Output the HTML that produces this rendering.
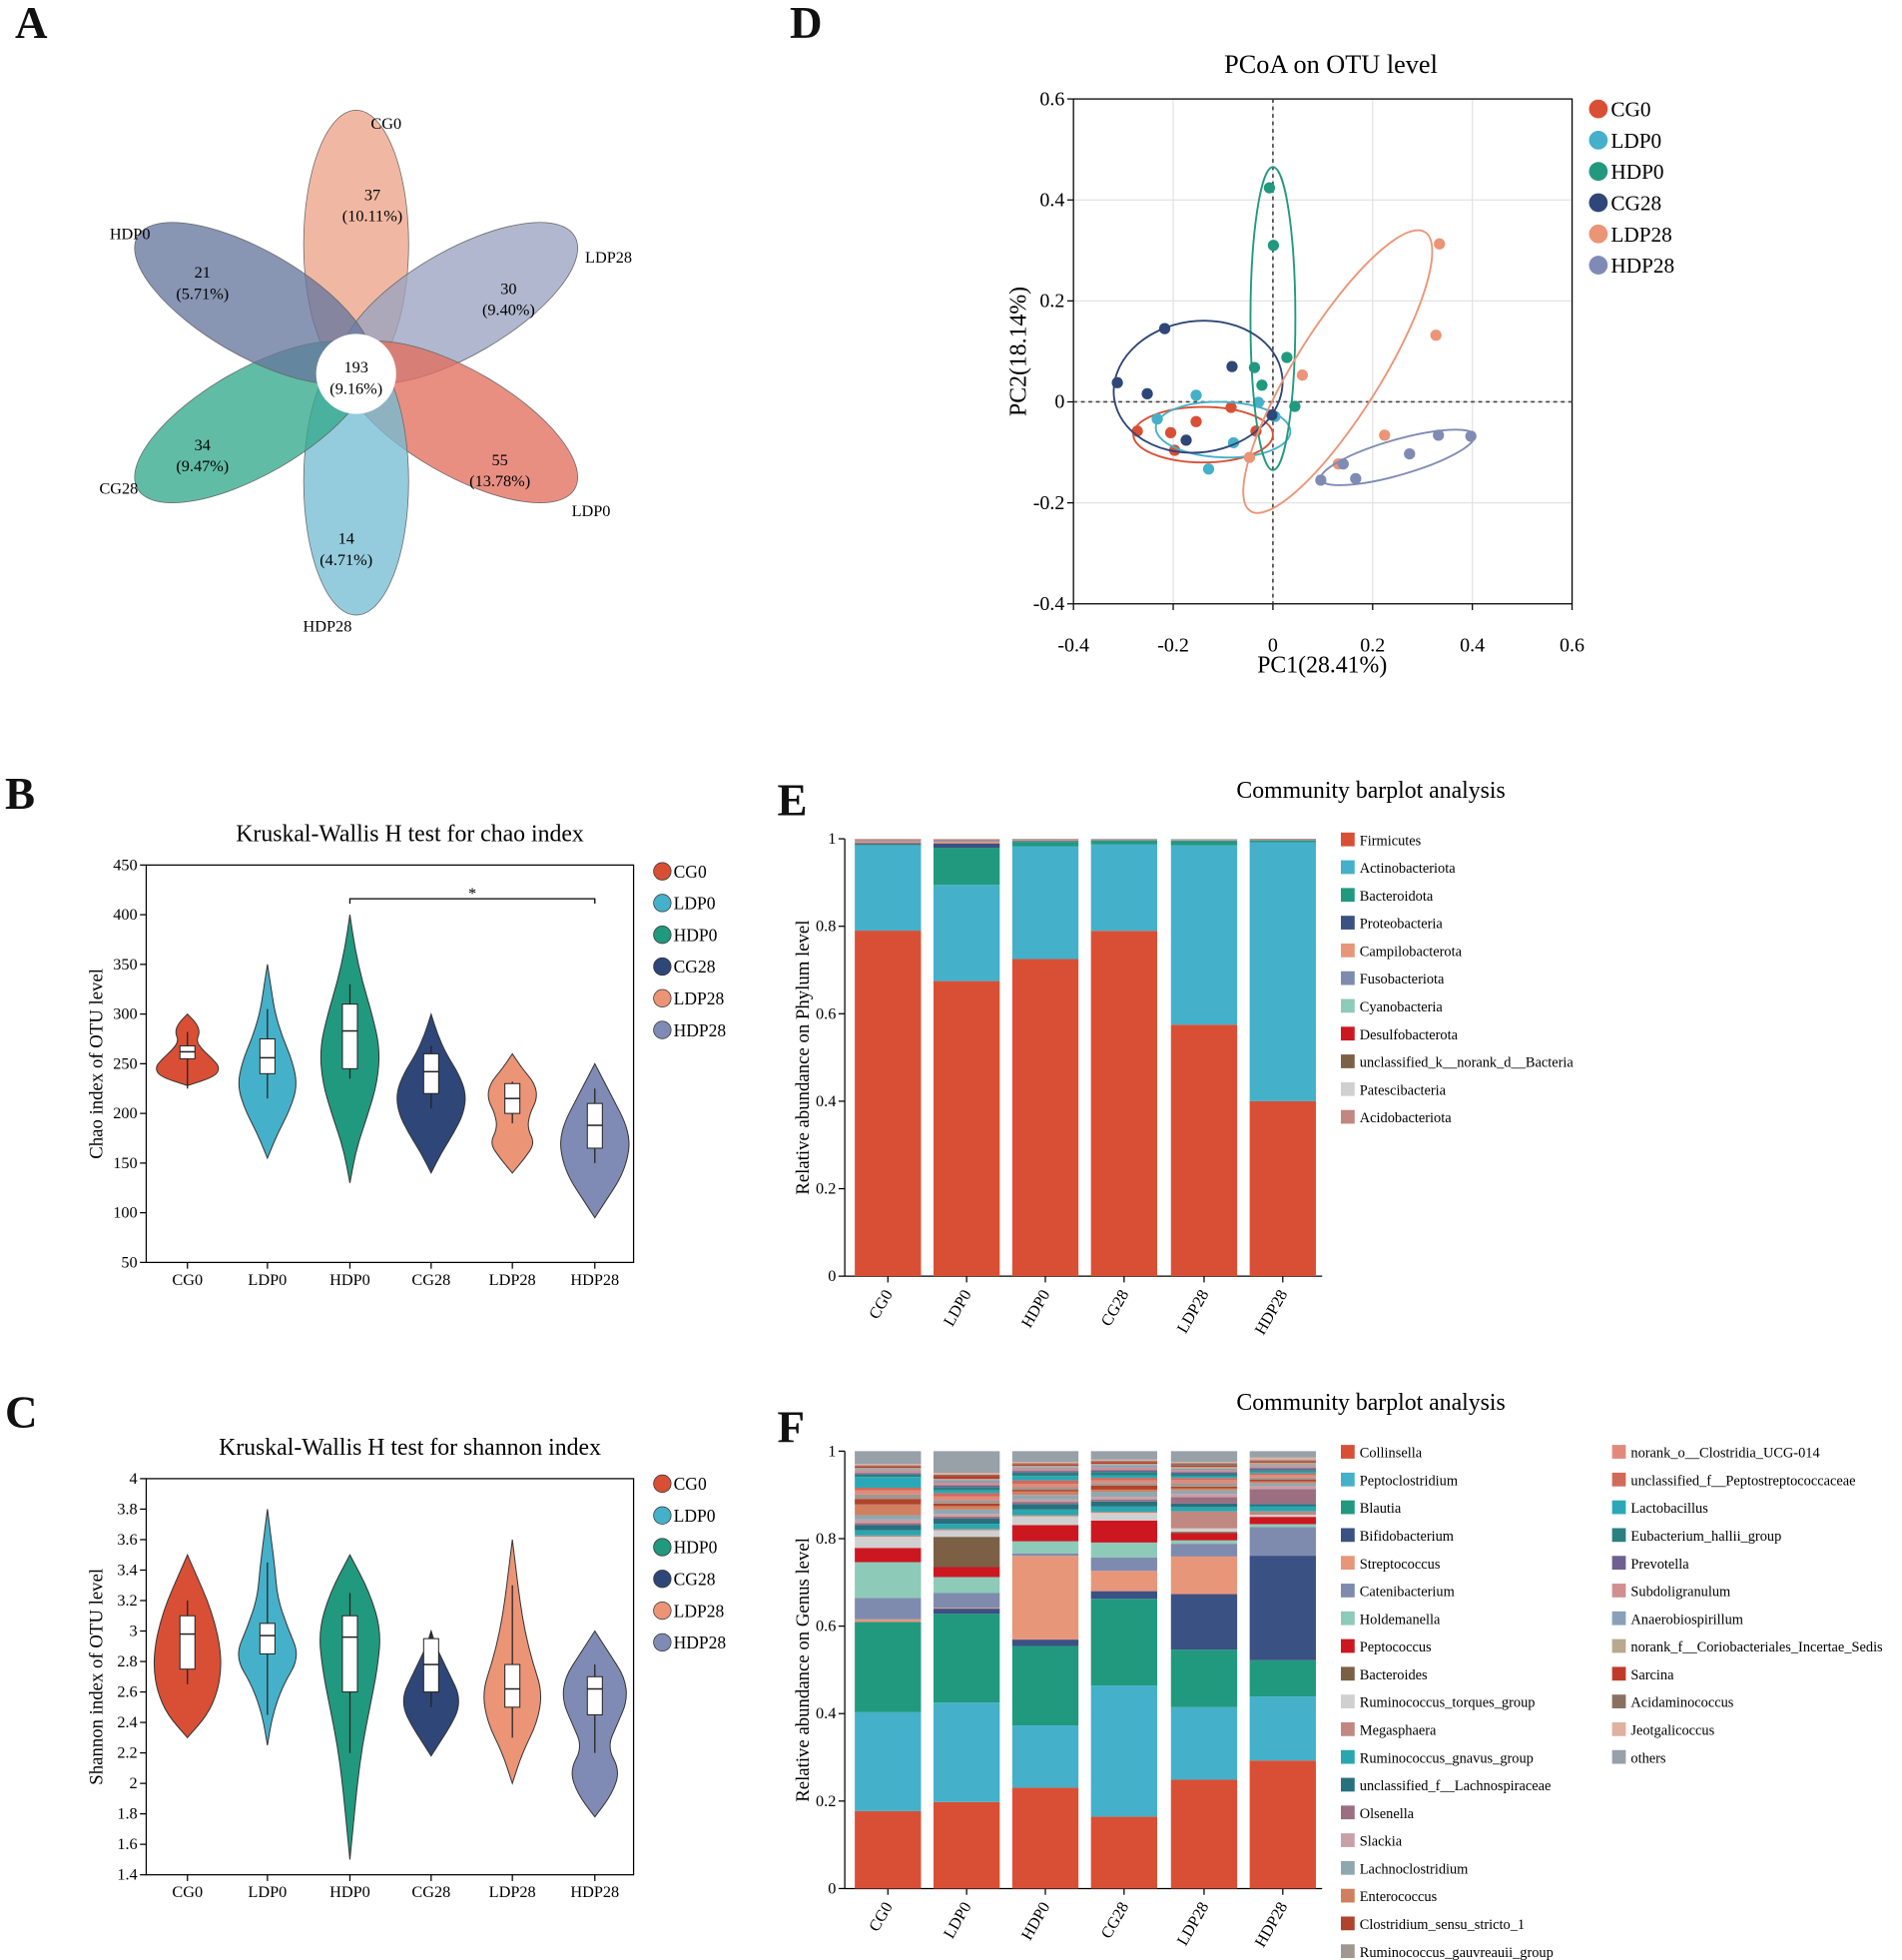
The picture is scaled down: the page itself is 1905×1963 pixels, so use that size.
<!DOCTYPE html>
<html><head><meta charset="utf-8"><style>
html,body{margin:0;padding:0;background:#fff}
svg{display:block;font-family:"Liberation Serif",serif}
</style></head><body>
<svg id="fig" width="1905" height="1963" viewBox="0 0 1522 1568" xmlns="http://www.w3.org/2000/svg">
<g font-weight="bold" font-size="36" fill="#111">
<text x="12" y="30">A</text>
<text x="632" y="30">D</text>
<text x="4" y="647">B</text>
<text x="622" y="652">E</text>
<text x="4" y="1142">C</text>
<text x="622" y="1154">F</text>
</g>
<g id="venn"></g>
<g id="pcoa"></g>
<g id="chao"></g>
<g id="shan"></g>
<g id="phy"></g>
<g id="gen"></g>
</svg>
<script>
const NS="http://www.w3.org/2000/svg";
function mk(p,t,a,txt){const e=document.createElementNS(NS,t);for(const k in a)e.setAttribute(k,a[k]);if(txt!==undefined)e.textContent=txt;p.appendChild(e);return e;}
const groups=["CG0","LDP0","HDP0","CG28","LDP28","HDP28"];
const gcol=["#d94f35","#45b0c9","#21997e","#2f4678","#ec9476","#7f8bb4"];

/* ---------- Venn ---------- */
const vennNames=["CG0","LDP28","LDP0","HDP28","CG28","HDP0"];
const vennCounts=["37","30","55","14","34","21"];
const vennPct=["(10.11%)","(9.40%)","(13.78%)","(4.71%)","(9.47%)","(5.71%)"];
const vennColors=["#eca489","#9aa3c0","#e2705f","#76bdd4","#34a98c","#67779e"];
const vennAngles=[-90,-30,30,90,150,210];
const vennCountX=[298,407,400,277,162,162],vennCountY=[160,235,372,435,360,222];
const vennLabelX=[309,487,473,262,95,104],vennLabelY=[103,210,413,505,395,191];
(function(){
 const g=document.getElementById('venn');const cx=285,cy=290;
 vennAngles.forEach((a,i)=>{const r=a*Math.PI/180;const px=cx+95*Math.cos(r),py=cy+95*Math.sin(r);
  const e=mk(g,'ellipse',{cx:px,cy:py,rx:107,ry:42,transform:`rotate(${a} ${px} ${py})`,fill:vennColors[i],'fill-opacity':0.78,stroke:'#666','stroke-width':0.6});
  
  });
 vennAngles.forEach((a,i)=>{
  const t1=mk(g,'text',{x:vennCountX[i],y:vennCountY[i],'text-anchor':'middle','font-size':13},vennCounts[i]);
  
  const t2=mk(g,'text',{x:vennCountX[i],y:vennCountY[i]+17,'text-anchor':'middle','font-size':13},vennPct[i]);
  
  const t3=mk(g,'text',{x:vennLabelX[i],y:vennLabelY[i],'text-anchor':'middle','font-size':13},vennNames[i]);
  });
 const c=mk(g,'circle',{cx:285,cy:299,r:32,fill:'#fff'});
 mk(g,'text',{x:285,y:298,'text-anchor':'middle','font-size':13},'193');
 mk(g,'text',{x:285,y:315,'text-anchor':'middle','font-size':13},'(9.16%)');
})();

/* ---------- PCoA ---------- */
const pcX=[[-0.272,-0.197,-0.154,-0.084,-0.034,-0.205],[-0.232,-0.154,-0.129,-0.079,-0.029,0.004],[-0.007,0.001,-0.037,-0.022,0.028,0.044],[-0.312,-0.252,-0.217,-0.174,-0.082,-0.002],[-0.047,0.059,0.131,0.224,0.327,0.334],[0.096,0.141,0.166,0.274,0.332,0.397]];
const pcY=[[-0.058,-0.096,-0.039,-0.011,-0.058,-0.061],[-0.034,0.013,-0.133,-0.081,-0.001,-0.029],[0.424,0.310,0.068,0.033,0.088,-0.009],[0.038,0.016,0.145,-0.076,0.070,-0.026],[-0.11,0.053,-0.123,-0.066,0.132,0.313],[-0.155,-0.123,-0.152,-0.103,-0.066,-0.068]];
const pcTicks=[-0.4,-0.2,0,0.2,0.4,0.6];
const ellCx=[-0.14,-0.1,0.0,-0.15,0.13,0.25],ellCy=[-0.065,-0.055,0.165,0.03,0.06,-0.11],ellRx=[0.14,0.135,0.045,0.17,0.33,0.16],ellRy=[0.055,0.055,0.3,0.13,0.085,0.035],ellRot=[0,2,0,-8,-58,-16];
(function(){
 const g=document.getElementById('pcoa');
 const X=v=>859+(v+0.4)/1.0*399, Y=v=>79+(0.6-v)/1.0*404;
 pcTicks.forEach(t=>{mk(g,'line',{x1:X(t),x2:X(t),y1:79,y2:483,stroke:'#e2e2e2'});mk(g,'line',{x1:859,x2:1258,y1:Y(t),y2:Y(t),stroke:'#e2e2e2'});
  const a=mk(g,'text',{x:X(t),y:521,'text-anchor':'middle','font-size':16},String(t));
  const b=mk(g,'text',{x:852,y:Y(t)+5,'text-anchor':'end','font-size':16},String(t));
  mk(g,'line',{x1:X(t),x2:X(t),y1:483,y2:488,stroke:'#000'});mk(g,'line',{x1:854,x2:859,y1:Y(t),y2:Y(t),stroke:'#000'});});
 mk(g,'rect',{x:859,y:79,width:399,height:404,fill:'none',stroke:'#000','stroke-width':1});
 mk(g,'line',{x1:X(0),x2:X(0),y1:79,y2:483,stroke:'#444','stroke-dasharray':'3,3','stroke-width':1.3});
 mk(g,'line',{x1:859,x2:1258,y1:Y(0),y2:Y(0),stroke:'#444','stroke-dasharray':'3,3','stroke-width':1.3});
 groups.forEach((gn,i)=>{
  const ex=X(ellCx[i]),ey=Y(ellCy[i]);
  const el=mk(g,'ellipse',{cx:ex,cy:ey,rx:ellRx[i]*399,ry:ellRy[i]*404,transform:`rotate(${ellRot[i]} ${ex} ${ey})`,fill:'none',stroke:gcol[i],'stroke-width':1.5});
  
  pcX[i].forEach((v,j)=>{const c=mk(g,'circle',{cx:X(v),cy:Y(pcY[i][j]),r:4.5,fill:gcol[i]});
   });
  const lc=mk(g,'circle',{cx:1279,cy:87+i*25,r:7.5,fill:gcol[i]});
  const lt=mk(g,'text',{x:1289,y:93+i*25,'font-size':17},gn);
 });
 const t=mk(g,'text',{x:1065,y:58,'text-anchor':'middle','font-size':21},'PCoA on OTU level');
 const xt=mk(g,'text',{x:1058,y:538,'text-anchor':'middle','font-size':19},'PC1(28.41%)');
 const yt=mk(g,'text',{x:0,y:0,'text-anchor':'middle','font-size':19,transform:'translate(821,281) rotate(-90)'},'PC2(18.14%)');
})();

/* ---------- Violins ---------- */
const chaoMin=[228,155,130,140,140,95],chaoMax=[300,350,400,300,260,250];
const chaoQ1=[255,240,245,220,200,165],chaoMed=[262,256,283,242,215,188],chaoQ3=[268,275,310,260,230,210];
const chaoWMin=[225,215,235,205,190,150],chaoWMax=[282,305,330,268,232,225];
const chaoShape=[[0,22,26,20,12,7,10,7,0],[0,8,18,24,20,12,6,3,0],[0,5,14,22,24,18,10,4,0],[0,8,18,26,28,22,12,5,0],[0,10,18,12,14,20,18,8,0],[0,10,20,26,28,24,16,8,0]];
const chaoTicks=[50,100,150,200,250,300,350,400,450];
const shMin=[2.3,2.25,1.5,2.18,2.0,1.78],shMax=[3.5,3.8,3.5,3.0,3.6,3.0];
const shQ1=[2.75,2.85,2.6,2.6,2.5,2.45],shMed=[2.98,2.97,2.96,2.78,2.62,2.62],shQ3=[3.1,3.05,3.1,2.95,2.78,2.7];
const shWMin=[2.65,2.45,2.2,2.5,2.3,2.2],shWMax=[3.2,3.45,3.25,3.0,3.3,2.78];
const shShape=[[0,16,24,27,26,22,16,8,0],[0,4,12,26,16,8,6,3,0],[0,3,6,10,16,22,25,16,0],[0,8,16,22,22,16,10,4,0],[0,8,20,24,16,10,6,3,0],[0,14,20,10,18,26,24,12,0]];
const shTicks=[1.4,1.6,1.8,2,2.2,2.4,2.6,2.8,3,3.2,3.4,3.6,3.8,4];
const xCenters=[150,214,280,345,410,476];
function violin(id,top,bot,lo,hi,ticks,mn,mx,q1,md,q3,wl,wh,shape,title,ytitle,legY,sig){
 const g=document.getElementById(id);const Y=v=>bot-(v-lo)/(hi-lo)*(bot-top);
 mk(g,'rect',{x:117,y:top,width:390,height:bot-top,fill:'none',stroke:'#000'});
 ticks.forEach(t=>{mk(g,'line',{x1:112,x2:117,y1:Y(t),y2:Y(t),stroke:'#000'});
  const l=mk(g,'text',{x:110,y:Y(t)+4,'text-anchor':'end','font-size':13},String(t));});
 groups.forEach((gn,i)=>{const cx=xCenters[i];const n=shape[i].length;let L=[],R=[];
  shape[i].forEach((w,k)=>{const y=Y(mn[i]+(mx[i]-mn[i])*k/(n-1));R.push([cx+w,y]);L.push([cx-w,y]);});
  const pts=R.concat(L.reverse());
  let d='M'+pts[0][0]+','+pts[0][1];
  for(let k=1;k<pts.length;k++){const p0=pts[k-1],p1=pts[k];const mx2=(p0[0]+p1[0])/2,my2=(p0[1]+p1[1])/2;d+=` Q${p0[0]},${p0[1]} ${mx2},${my2}`;}
  d+=' Z';
  const v=mk(g,'path',{d:d,fill:gcol[i],stroke:'#333','stroke-width':0.8});
  mk(g,'line',{x1:cx,x2:cx,y1:Y(wl[i]),y2:Y(wh[i]),stroke:'#222','stroke-width':1});
  const b=mk(g,'rect',{x:cx-6,y:Y(q3[i]),width:12,height:Y(q1[i])-Y(q3[i]),fill:'#fff',stroke:'#222','stroke-width':0.8});
  mk(g,'line',{x1:cx-6,x2:cx+6,y1:Y(md[i]),y2:Y(md[i]),stroke:'#222','stroke-width':1.2});
  mk(g,'line',{x1:cx,x2:cx,y1:bot,y2:bot+5,stroke:'#000'});
  const xl=mk(g,'text',{x:cx,y:bot+18,'text-anchor':'middle','font-size':13},gn);
  const lc=mk(g,'circle',{cx:530,cy:legY+i*25.4,r:7,fill:gcol[i],stroke:'#333','stroke-width':0.6});
  const lt=mk(g,'text',{x:539,y:legY+5+i*25.4,'font-size':14},gn);
 });
 const t=mk(g,'text',{x:328,y:top-19,'text-anchor':'middle','font-size':19},title);
 const yt=mk(g,'text',{x:0,y:0,'text-anchor':'middle','font-size':15,transform:`translate(82,${(top+bot)/2}) rotate(-90)`},ytitle);
 if(sig){mk(g,'path',{d:`M280,${top+31} V${top+27} H476 V${top+31}`,fill:'none',stroke:'#000'});
  const s=mk(g,'text',{x:378,y:top+27,'text-anchor':'middle','font-size':13},'*');}
}
violin('chao',692,1010,50,450,chaoTicks,chaoMin,chaoMax,chaoQ1,chaoMed,chaoQ3,chaoWMin,chaoWMax,chaoShape,'Kruskal-Wallis H test for chao index','Chao index of OTU level',697,true);
violin('shan',1183,1500,1.4,4,shTicks,shMin,shMax,shQ1,shMed,shQ3,shWMin,shWMax,shShape,'Kruskal-Wallis H test for shannon index','Shannon index of OTU level',1187,false);

/* ---------- Stacked bars ---------- */
const phyNames=["Firmicutes","Actinobacteriota","Bacteroidota","Proteobacteria","Campilobacterota","Fusobacteriota","Cyanobacteria","Desulfobacterota","unclassified_k__norank_d__Bacteria","Patescibacteria","Acidobacteriota"];
const phyColors=["#d94f35","#45b0c9","#21997e","#3a5183","#e8967a","#7f8bae","#8ecab8","#cc1720","#7b6046","#d0d0d0","#c08880"];
const phyVals=[[0.79,0.675,0.725,0.79,0.575,0.40],[0.195,0.22,0.258,0.198,0.41,0.592],[0.002,0.085,0.01,0.008,0.01,0.004],[0.003,0.01,0.002,0.001,0.001,0.001],[0.004,0.004,0.002,0.001,0.001,0.001],[0.002,0.002,0.001,0.001,0.001,0.001],[0.001,0.001,0.001,0.001,0.001,0.0005],[0.001,0.001,0.0005,0.0005,0.0005,0.0005],[0.0005,0.0005,0.0005,0.0,0.0,0.0],[0.0005,0.001,0.0,0.0,0.0005,0.0],[0.001,0.001,0.0,0.0,0.0,0.0]];
const genNames=["Collinsella","Peptoclostridium","Blautia","Bifidobacterium","Streptococcus","Catenibacterium","Holdemanella","Peptococcus","Bacteroides","Ruminococcus_torques_group","Megasphaera","Ruminococcus_gnavus_group","unclassified_f__Lachnospiraceae","Olsenella","Slackia","Lachnoclostridium","Enterococcus","Clostridium_sensu_stricto_1","Ruminococcus_gauvreauii_group","norank_o__Clostridia_UCG-014","unclassified_f__Peptostreptococcaceae","Lactobacillus","Eubacterium_hallii_group","Prevotella","Subdoligranulum","Anaerobiospirillum","norank_f__Coriobacteriales_Incertae_Sedis","Sarcina","Acidaminococcus","Jeotgalicoccus","others"];
const genColors=["#d94f35","#45b0c9","#21997e","#3a5183","#e8967a","#7f8bae","#8ecab8","#cc1720","#7b6046","#d0d0d0","#c08880","#2aa6ae","#27707e","#9b6e82","#c9a0a6","#8fa8b0","#d08060","#b0432b","#a09890","#e08a7c","#d06a5a","#2aa8b8","#2a8080","#6e6090","#d09090","#8aa0b8","#b8a890","#c03a2a","#8a7060","#e0b0a0","#98a0a8"];
const genVals=[[0.18,0.20,0.235,0.17,0.255,0.30],[0.23,0.23,0.145,0.31,0.17,0.15],[0.21,0.205,0.185,0.205,0.135,0.085],[0.0,0.012,0.015,0.018,0.13,0.245],[0.006,0.002,0.195,0.048,0.088,0.0],[0.05,0.034,0.006,0.032,0.03,0.067],[0.083,0.037,0.028,0.035,0.008,0.007],[0.033,0.023,0.038,0.052,0.017,0.017],[0,0.07,0.0,0.0,0.003,0],[0.026,0.015,0.02,0.018,0.008,0.005],[0.003,0.003,0.003,0.003,0.04,0.008],[0.012,0.012,0.013,0.012,0.01,0.012],[0.012,0.012,0.013,0.012,0.008,0.005],[0.005,0.005,0.005,0.005,0.015,0.035],[0.008,0.006,0.006,0.006,0.008,0.008],[0.01,0.01,0.01,0.012,0.008,0.006],[0.025,0.008,0.008,0.005,0.005,0.004],[0.013,0.006,0.004,0.01,0.004,0.004],[0.01,0.008,0.006,0.006,0.008,0.005],[0.01,0.008,0.008,0.006,0.008,0.006],[0.006,0.008,0.008,0.006,0.004,0.004],[0.025,0.006,0.01,0.006,0.004,0.004],[0.006,0.008,0.008,0.008,0.006,0.004],[0.003,0.004,0.004,0.004,0.004,0.004],[0.006,0.006,0.006,0.006,0.004,0.004],[0.003,0.006,0.003,0.006,0.004,0.003],[0.003,0.003,0.003,0.003,0.004,0.006],[0.003,0.006,0.003,0.004,0.003,0.003],[0.003,0.004,0.003,0.003,0.006,0.003],[0.003,0.004,0.003,0.003,0.003,0.006],[0.03,0.05,0.025,0.02,0.025,0.015]];
const barTicks=[0,0.2,0.4,0.6,0.8,1];
const barX=[684,747,810,873,937,1000];
function stacked(id,top,bot,names,colors,vals,ytitle,title,legendCols){
 const g=document.getElementById(id);const Y=v=>bot-v*(bot-top);
 mk(g,'line',{x1:676,x2:676,y1:top,y2:bot,stroke:'#000'});mk(g,'line',{x1:676,x2:1058,y1:bot,y2:bot,stroke:'#000'});
 barTicks.forEach(t=>{mk(g,'line',{x1:671,x2:676,y1:Y(t),y2:Y(t),stroke:'#000'});
  const l=mk(g,'text',{x:669,y:Y(t)+4,'text-anchor':'end','font-size':13},String(t));});
 groups.forEach((gn,j)=>{let tot=0;vals.forEach(v=>tot+=v[j]);let cum=0;
  vals.forEach((v,k)=>{const f=v[j]/tot;if(f<=0)return;const r=mk(g,'rect',{x:barX[j],y:Y(cum+f),width:53,height:f*(bot-top),fill:colors[k]});
   cum+=f;});
  const cx=barX[j]+26.5;mk(g,'line',{x1:cx,x2:cx,y1:bot,y2:bot+5,stroke:'#000'});
  const xl=mk(g,'text',{x:0,y:0,'text-anchor':'end','font-size':13,transform:`translate(${cx+4},${bot+14}) rotate(-60)`},gn);});
 names.forEach((n,k)=>{const col=k<legendCols?0:1;const r=k<legendCols?k:k-legendCols;const lx=col?1290:1073;const ly=top+r*22.2;
  const s=mk(g,'rect',{x:lx,y:ly-5,width:11,height:11,fill:colors[k]});
  const t=mk(g,'text',{x:lx+15,y:ly+5,'font-size':11.5},n);});
 const t=mk(g,'text',{x:1097,y:top-33,'text-anchor':'middle','font-size':19},title);
 const yt=mk(g,'text',{x:0,y:0,'text-anchor':'middle','font-size':15,transform:`translate(647,${(top+bot)/2}) rotate(-90)`},ytitle);
}
stacked('phy',671,1021,phyNames,phyColors,phyVals,'Relative abundance on Phylum level','Community barplot analysis',20);
stacked('gen',1161,1511,genNames,genColors,genVals,'Relative abundance on Genus level','Community barplot analysis',19);
</script>
</body></html>
